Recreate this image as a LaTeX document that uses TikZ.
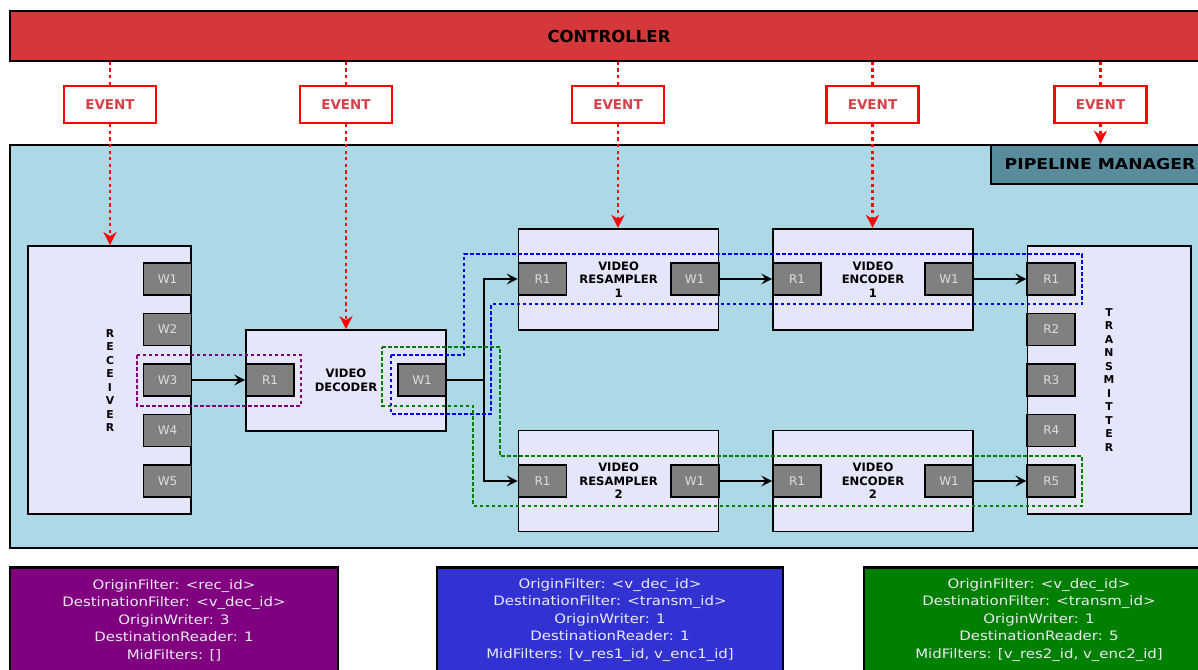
\documentclass[tikz,border=0pt]{standalone}
\usepackage{fontspec}
\setmainfont{DejaVu Sans}
\newfontfamily\widefont{DejaVu Sans}[FakeStretch=1.15]
\usetikzlibrary{arrows.meta}

\definecolor{ctrlred}{RGB}{212,56,58}
\definecolor{evtext}{RGB}{217,64,72}
\definecolor{pmblue}{RGB}{173,216,230}
\definecolor{pmtitlefill}{RGB}{88,139,155}
\definecolor{lav}{RGB}{230,230,250}
\definecolor{portgray}{RGB}{128,128,128}
\definecolor{porttext}{RGB}{222,222,222}
\definecolor{cfgpurple}{RGB}{128,0,128}
\definecolor{cfgblue}{RGB}{50,50,210}
\definecolor{cfggreen}{RGB}{0,128,0}
\definecolor{cfgtext}{RGB}{234,234,242}
\definecolor{grpblue}{RGB}{0,0,255}
\definecolor{grpgreen}{RGB}{0,128,0}
\definecolor{grppurple}{RGB}{128,0,128}

\begin{document}
\begin{tikzpicture}[x=1pt,y=-1pt,
  frame/.style={draw=black, line width=1.7pt, inner sep=0pt},
  stage/.style={frame, fill=lav, minimum width=200pt, minimum height=101pt,
    align=center, font=\bfseries\fontsize{11.6}{13.5}\selectfont},
  endpoint/.style={frame, fill=lav, minimum width=163pt, minimum height=268pt},
  vlabel/.style={align=center, font=\bfseries\fontsize{10.8}{13.5}\selectfont},
  port/.style={frame, fill=portgray, text=porttext, minimum width=48pt,
    minimum height=32pt, font=\fontsize{12}{13}\selectfont},
  event/.style={draw=red, line width=2.2pt, fill=white, text=evtext,
    minimum width=92pt, minimum height=37pt, inner sep=0pt,
    font=\bfseries\fontsize{13.5}{16}\selectfont},
  evline/.style={red, line width=2.6pt, dash pattern=on 3.3pt off 3.3pt},
  evarrow/.style={evline, -{Stealth[length=13pt,width=13pt,inset=4pt]}},
  flow/.style={black, line width=2pt, -{Stealth[length=11pt,width=11pt,inset=4.5pt]}},
  group/.style={line width=1.7pt, dash pattern=on 3.5pt off 2.5pt},
  cfgbox/.style={draw=black, line width=2.5pt, minimum height=140pt, inner sep=0pt, anchor=north},
  cfgtxt/.style={text=cfgtext, align=center, font=\widefont\fontsize{13}{17.5}\selectfont}
]
\useasboundingbox (0,0) rectangle (1198,669);
\clip (0,0) rectangle (1198,669);
\fill[white] (0,0) rectangle (1198,669);

% controller bar
\node[frame, fill=ctrlred, minimum width=1198pt, minimum height=50pt,
  font=\bfseries\fontsize{16.5}{18}\selectfont] (ctrl) at (609,36) {CONTROLLER};

% pipeline manager area and its title tab
\node[draw=black, line width=2.4pt, fill=pmblue, minimum width=1198pt,
  minimum height=403pt, inner sep=0pt] (pm) at (609,346.5) {};
\node[frame, fill=pmtitlefill, minimum width=218pt, minimum height=39pt,
  font=\widefont\bfseries\fontsize{15}{17}\selectfont] (pmtitle) at (1100,164.5) {PIPELINE MANAGER};

% receiver
\node[endpoint] (rec) at (109.5,380) {};
\node[vlabel] (recname) at (110,380.5) {R\\E\\C\\E\\I\\V\\E\\R};
\node[port] (rw1) at (167.5,279) {W1};
\node[port] (rw2) at (167.5,329.5) {W2};
\node[port] (rw3) at (167.5,380) {W3};
\node[port] (rw4) at (167.5,430.5) {W4};
\node[port] (rw5) at (167.5,481) {W5};

% video decoder
\node[stage] (dec) at (346,380.5) {VIDEO\\DECODER};
\node[port] (dr1) at (270,380) {R1};
\node[port] (dw1) at (422,380) {W1};

% resamplers
\node[stage] (res1) at (618.6,279.3) {VIDEO\\RESAMPLER\\1};
\node[port] (res1r) at (542.5,279) {R1};
\node[port] (res1w) at (694.7,279) {W1};
\node[stage] (res2) at (618.6,481) {VIDEO\\RESAMPLER\\2};
\node[port] (res2r) at (542.5,481) {R1};
\node[port] (res2w) at (694.7,481) {W1};

% encoders
\node[stage] (enc1) at (873,279.3) {VIDEO\\ENCODER\\1};
\node[port] (enc1r) at (797,279) {R1};
\node[port] (enc1w) at (949,279) {W1};
\node[stage] (enc2) at (873,481) {VIDEO\\ENCODER\\2};
\node[port] (enc2r) at (797,481) {R1};
\node[port] (enc2w) at (949,481) {W1};

% transmitter
\node[endpoint, minimum width=163.7pt] (tx) at (1109.2,380.2) {};
\node[vlabel] (txname) at (1109,380) {T\\R\\A\\N\\S\\M\\I\\T\\T\\E\\R};
\node[port] (tr1) at (1051.3,279) {R1};
\node[port] (tr2) at (1051.3,329.5) {R2};
\node[port] (tr3) at (1051.3,380) {R3};
\node[port] (tr4) at (1051.3,430.5) {R4};
\node[port] (tr5) at (1051.3,481) {R5};

% events from the controller
\node[event] (ev1) at (110,104.5) {EVENT};
\node[event] (ev2) at (346,104.5) {EVENT};
\node[event] (ev3) at (618,104.5) {EVENT};
\node[event] (ev4) at (872.5,104.5) {EVENT};
\node[event] (ev5) at (1100.5,104.5) {EVENT};
\foreach \e in {ev1,ev2,ev3,ev4,ev5}
  \draw[evline] (ctrl.south -| \e.north) -- (\e.north);
\draw[evarrow] (ev1.south) -- (rec.north -| ev1.south);
\draw[evarrow] (ev2.south) -- (dec.north -| ev2.south);
\draw[evarrow] (ev3.south) -- (res1.north -| ev3.south);
\draw[evarrow] (ev4.south) -- (enc1.north -| ev4.south);
\draw[evarrow] (ev5.south) -- (pm.north -| ev5.south);

% data flow
\draw[flow] (rw3.east) -- (dr1.west);
\coordinate (fork) at ([xshift=37pt]dw1.east);
\draw[line width=2.8pt] (dw1.east) -- (fork);
\draw[flow] (fork) |- (res1r.west);
\draw[flow] (fork) |- (res2r.west);
\draw[flow] (res1w.east) -- (enc1r.west);
\draw[flow] (res2w.east) -- (enc2r.west);
\draw[flow] (enc1w.east) -- (tr1.west);
\draw[flow] (enc2w.east) -- (tr5.west);

% path groupings
\draw[group, grppurple] (137,355) rectangle (301,405.7);
\draw[group, grpblue] (391,355) -- (464,355) -- (464,254) -- (1082,254) -- (1082,304.3)
  -- (491,304.3) -- (491,413.7) -- (391,413.7) -- cycle;
\draw[group, grpgreen] (382.3,346.7) -- (500,346.7) -- (500,455.7) -- (1082,455.7)
  -- (1082,506) -- (473.3,506) -- (473.3,405.7) -- (382.3,405.7) -- cycle;

% path descriptions
\node[cfgbox, fill=cfgpurple, minimum width=328pt] (cfgA) at (174,566) {};
\node[cfgtxt] (cfgAtxt) at (174,620) {OriginFilter: <rec\_id>\\DestinationFilter: <v\_dec\_id>\\OriginWriter: 3\\DestinationReader: 1\\MidFilters: []};
\node[cfgbox, fill=cfgblue, minimum width=346pt] (cfgB) at (610,566) {};
\node[cfgtxt] (cfgBtxt) at (610,620) {OriginFilter: <v\_dec\_id>\\DestinationFilter: <transm\_id>\\OriginWriter: 1\\DestinationReader: 1\\MidFilters: [v\_res1\_id, v\_enc1\_id]};
\node[cfgbox, fill=cfggreen, minimum width=350pt] (cfgC) at (1039,566) {};
\node[cfgtxt] (cfgCtxt) at (1039,620) {OriginFilter: <v\_dec\_id>\\DestinationFilter: <transm\_id>\\OriginWriter: 1\\DestinationReader: 5\\MidFilters: [v\_res2\_id, v\_enc2\_id]};
\end{tikzpicture}
\end{document}
